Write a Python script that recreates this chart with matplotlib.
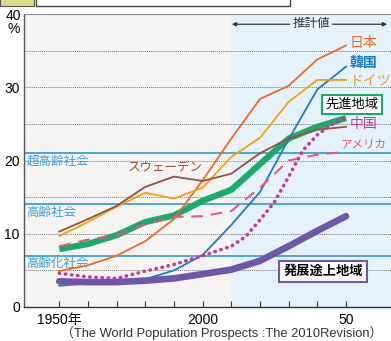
import matplotlib
matplotlib.use("Agg")
import matplotlib.pyplot as plt
from matplotlib.patches import Rectangle

plt.rcParams['font.family'] = ['Liberation Sans', 'Noto Sans CJK JP']

# data (% of population aged 65+)
years = [1950, 1960, 1970, 1980, 1990, 2000, 2010, 2020, 2030, 2040, 2050]
japan = [4.9, 5.7, 7.0, 9.0, 12.0, 17.3, 23.0, 28.4, 30.2, 33.8, 35.7]
korea = [2.9, 3.2, 3.4, 3.8, 5.0, 7.1, 11.2, 15.7, 22.9, 29.7, 32.8]
germany = [9.7, 11.6, 13.7, 15.6, 14.8, 16.3, 20.5, 23.1, 28.0, 31.0, 31.0]
sweden = [10.3, 12.0, 13.8, 16.4, 17.8, 17.2, 18.2, 21.0, 23.0, 24.2, 24.6]
developed = [7.9, 8.6, 9.8, 11.6, 12.5, 14.5, 16.0, 19.5, 23.0, 24.6, 25.8]
usa = [8.3, 9.2, 9.8, 11.3, 12.3, 12.4, 13.1, 16.3, 20.0, 20.8, 21.2]
china_years = [1950, 1960, 1970, 1980, 1990, 2000, 2010, 2015, 2020, 2025,
               2030, 2035, 2040, 2045, 2050]
china = [4.6, 4.1, 3.9, 4.9, 5.8, 7.0, 8.3, 9.6, 11.9, 14.3, 17.8, 21.4,
         23.5, 24.9, 25.9]
developing = [3.5, 3.4, 3.4, 3.6, 3.9, 4.5, 5.1, 6.3, 8.3, 10.4, 12.4]

thresholds = [21, 14, 7]
threshold_names = ['超高齢社会', '高齢社会', '高齢化社会']

fig = plt.figure(figsize=(3.91, 3.41), dpi=100)
ax = fig.add_axes([24 / 391, 1 - 307 / 341, 1 - 24 / 391, (307 - 14) / 341])
ax.set_facecolor('#F5F4F2')
ax.set_xlim(1937.7, 2065.7)
ax.set_ylim(0, 40)

# projection shading
ax.axvspan(2010, 2070, color='#E6F2FB', zorder=0, lw=0)

# dotted grid
for v in range(5, 40, 5):
    ax.axhline(v, color='#777777', lw=0.7, ls=(0, (1, 1)), zorder=1)

# threshold lines
for v, name in zip(thresholds, threshold_names):
    ax.axhline(v, color='#3C9FDA', lw=1.3, zorder=2)
    ax.text(1938.6, v - 1.1, name, color='#3C9FDA', fontsize=9,
            va='center', ha='left', zorder=3)

ax.plot(years, japan, color='#EC6A25', lw=1.3, zorder=4)
ax.plot(years, korea, color='#1B7CC4', lw=1.3, zorder=4)
ax.plot(years, germany, color='#F5A10A', lw=1.3, zorder=4)
ax.plot(years, sweden, color='#98503D', lw=1.3, zorder=4)
ax.plot(years, developed, color='#1AAB6B', lw=4.5, zorder=3,
        solid_capstyle='butt')
ax.plot(years, usa, color='#EA5080', lw=1.4, ls=(0, (6, 4)), zorder=5)
ax.plot(china_years, china, color='#C23C92', lw=2.6, ls=(0, (0.1, 1.6)),
        dash_capstyle='round', zorder=5)
ax.plot(years, developing, color='#6E56AA', lw=4.8, zorder=4,
        solid_capstyle='round')

# series labels
ax.text(2051.4, 36.0, '日本', color='#EC6A25', fontsize=10, va='center')
ax.text(2051.4, 33.3, '韓国', color='#1B7CC4', fontsize=10, va='center',
        fontweight='bold')
ax.text(2051.4, 30.8, 'ドイツ', color='#F5A10A', fontsize=10, va='center')
ax.text(2051.4, 25.0, '中国', color='#C23C92', fontsize=10, va='center')
ax.text(2048.2, 22.2, 'アメリカ', color='#EA5080', fontsize=8.3, va='center')
ax.text(1974, 19.0, 'スウェーデン', color='#98503D', fontsize=9, va='center')
ax.text(2052.2, 27.7, '先進地域', color='black', fontsize=9.5,
        va='center', ha='center', zorder=6,
        bbox=dict(boxstyle='square,pad=0.25', fc='white', ec='#1AAB6B', lw=1.5))
ax.text(2042.0, 4.85, '発展途上地域', color='black', fontsize=9.5,
        va='center', ha='center', fontweight='bold', zorder=6,
        bbox=dict(boxstyle='square,pad=0.3', fc='white', ec='#6E56AA', lw=1.5))

# projection arrow
ax.annotate('', xy=(2009.2, 38.6), xytext=(2065.3, 38.6),
            arrowprops=dict(arrowstyle='<|-|>', color='#333333', lw=0.9,
                            mutation_scale=6))
ax.text(2037.8, 38.6, '推計値', fontsize=9, ha='center', va='center',
        color='#333333', zorder=6,
        bbox=dict(boxstyle='square,pad=0.15', fc='#E6F2FB', ec='none'))

# axes
ax.set_xticks(years)
ax.set_xticklabels(['1950年', '', '', '', '', '2000', '', '', '', '', '50'])
ax.set_yticks([0, 10, 20, 30])
ax.tick_params(axis='x', direction='in', length=4, width=0.8, color='#333333',
               labelsize=10, pad=4)
ax.tick_params(axis='y', length=0, labelsize=10, pad=3)
ax.spines['right'].set_visible(False)
ax.spines['left'].set_color('#555555')
ax.spines['bottom'].set_color('#333333')
ax.spines['top'].set_color('#888888')
ax.spines['left'].set_linewidth(1.0)
ax.spines['bottom'].set_linewidth(1.0)

fig.text(21 / 391, 1 - 16 / 341, '40', fontsize=10, ha='right', va='center')
fig.text(14 / 391, 1 - 29 / 341, '%', fontsize=10, ha='center', va='center')
fig.text(222 / 391, 1 - 333 / 341,
         '（The World Population Prospects :The 2010Revision）',
         fontsize=9.3, ha='center', va='center', color='#333333')

# cropped header boxes
fig.add_artist(Rectangle((0, 1 - 6 / 341), 34 / 391, 8 / 341,
                         transform=fig.transFigure, fc='#D8DC8C',
                         ec='#555555', lw=0.8))
fig.add_artist(Rectangle((36 / 391, 1 - 6 / 341), 254 / 391, 8 / 341,
                         transform=fig.transFigure, fc='white',
                         ec='#444444', lw=1.0))

fig.savefig('out.png', dpi=100)
